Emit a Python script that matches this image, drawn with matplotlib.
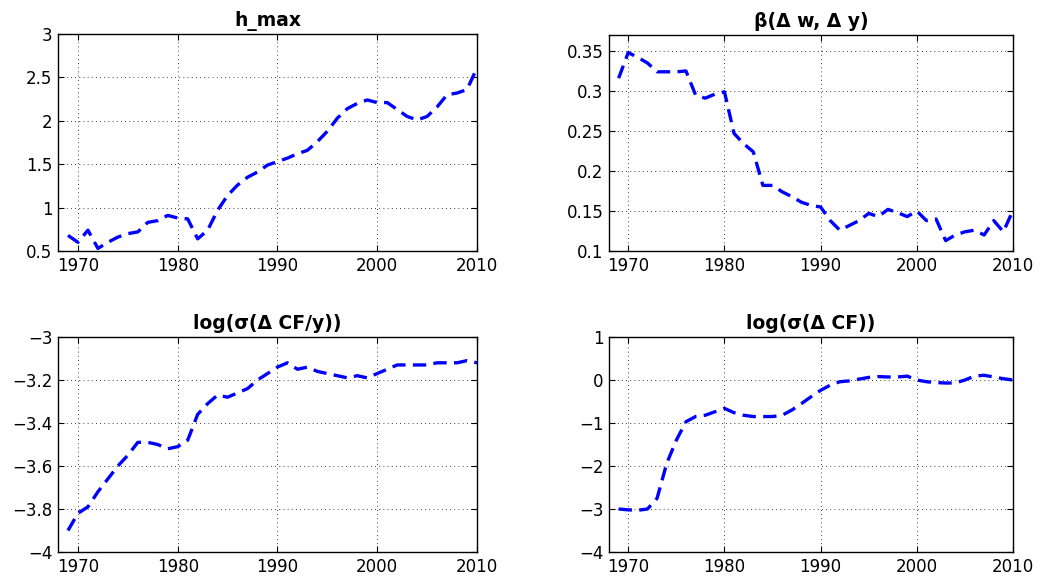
import matplotlib
matplotlib.use("Agg")
import matplotlib.pyplot as plt

plt.rcParams['font.family'] = ['DejaVu Sans']

years = list(range(1969, 2011))

h_max = [0.68, 0.60, 0.74, 0.53, 0.60, 0.66, 0.70, 0.72, 0.83, 0.85,
         0.91, 0.88, 0.87, 0.64, 0.74, 0.97, 1.14, 1.26, 1.35, 1.41,
         1.49, 1.53, 1.57, 1.62, 1.66, 1.76, 1.88, 2.03, 2.14, 2.20,
         2.24, 2.21, 2.21, 2.13, 2.05, 2.01, 2.05, 2.16, 2.30, 2.32,
         2.36, 2.61]

beta_wy = [0.316, 0.348, 0.342, 0.335, 0.324, 0.324, 0.324, 0.325, 0.295, 0.291,
           0.296, 0.299, 0.247, 0.234, 0.224, 0.182, 0.182, 0.174, 0.168, 0.161,
           0.157, 0.155, 0.138, 0.126, 0.132, 0.138, 0.147, 0.143, 0.152, 0.148,
           0.143, 0.150, 0.138, 0.140, 0.113, 0.120, 0.124, 0.126, 0.120, 0.138,
           0.124, 0.151]

log_sd_cfy = [-3.90, -3.82, -3.79, -3.72, -3.66, -3.60, -3.55, -3.49, -3.49, -3.50,
              -3.52, -3.51, -3.48, -3.36, -3.31, -3.27, -3.28, -3.26, -3.24, -3.20,
              -3.17, -3.14, -3.12, -3.15, -3.14, -3.16, -3.17, -3.18, -3.19, -3.18,
              -3.19, -3.17, -3.15, -3.13, -3.13, -3.13, -3.13, -3.12, -3.12, -3.12,
              -3.11, -3.12]

log_sd_cf = [-3.00, -3.02, -3.03, -3.00, -2.75, -1.94, -1.40, -0.97, -0.85, -0.82,
             -0.74, -0.66, -0.76, -0.82, -0.85, -0.85, -0.85, -0.82, -0.70, -0.55,
             -0.39, -0.24, -0.12, -0.04, -0.02, 0.02, 0.06, 0.08, 0.07, 0.07,
             0.09, 0.00, -0.04, -0.06, -0.07, -0.07, 0.00, 0.09, 0.11, 0.07,
             0.03, 0.00]

x_ticks = [1970, 1980, 1990, 2000, 2010]

panels = [
    ("h_max", h_max, (0.5, 3.0), [0.5, 1, 1.5, 2, 2.5, 3], ["0.5", "1", "1.5", "2", "2.5", "3"]),
    ("β(Δ w, Δ y)", beta_wy, (0.1, 0.37), [0.1, 0.15, 0.2, 0.25, 0.3, 0.35],
     ["0.1", "0.15", "0.2", "0.25", "0.3", "0.35"]),
    ("log(σ(Δ CF/y))", log_sd_cfy, (-4.0, -3.0), [-4, -3.8, -3.6, -3.4, -3.2, -3],
     ["\u22124", "\u22123.8", "\u22123.6", "\u22123.4", "\u22123.2", "\u22123"]),
    ("log(σ(Δ CF))", log_sd_cf, (-4.0, 1.0), [-4, -3, -2, -1, 0, 1],
     ["\u22124", "\u22123", "\u22122", "\u22121", "0", "1"]),
]

W, H = 1062, 576
fig = plt.figure(figsize=(W / 100, H / 100), dpi=100)

# axes boxes in pixels: (left, top, right, bottom)
boxes = [(58, 34, 477, 251), (609, 35, 1013, 251),
         (58, 337, 477, 552), (609, 337, 1013, 552)]

for (title, vals, ylim, yt, ytl), (l, t, r, b) in zip(panels, boxes):
    ax = fig.add_axes([l / W, 1 - b / H, (r - l) / W, (b - t) / H])
    ax.plot(years, vals, color='#0000ff', linewidth=2.4, linestyle=(0, (4, 2.2)))
    ax.set_xlim(1968, 2010)
    ax.set_ylim(*ylim)
    ax.set_xticks(x_ticks)
    ax.set_yticks(yt)
    ax.set_yticklabels(ytl)
    ax.grid(True, color='black', linestyle=(0, (1, 4)), linewidth=0.6)
    ax.tick_params(direction='in', length=4, width=0.8, labelsize=12,
                   top=True, right=True, pad=4)
    for s in ax.spines.values():
        s.set_linewidth(1.0)
    ax.set_title(title, fontsize=13.5, fontweight='bold', pad=6)

fig.savefig("out.png", dpi=100)
